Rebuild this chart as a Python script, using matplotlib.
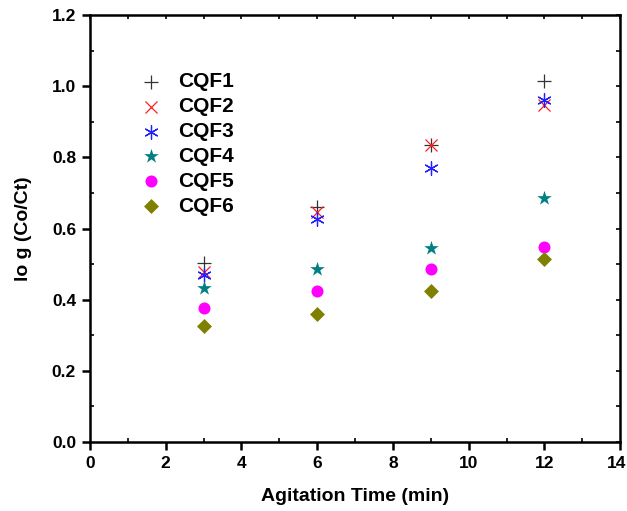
import matplotlib
matplotlib.use("Agg")
import matplotlib.pyplot as plt
from matplotlib.ticker import MultipleLocator
import matplotlib.transforms as mtrans

plt.rcParams['font.family'] = ['Liberation Sans', 'DejaVu Sans']

time = [3, 6, 9, 12]
cqf1 = [0.503, 0.660, 0.835, 1.015]
cqf2 = [0.478, 0.646, 0.835, 0.947]
cqf3 = [0.470, 0.627, 0.770, 0.961]
cqf4 = [0.433, 0.486, 0.545, 0.686]
cqf5 = [0.377, 0.424, 0.486, 0.548]
cqf6 = [0.326, 0.360, 0.424, 0.514]
labels = ['CQF1', 'CQF2', 'CQF3', 'CQF4', 'CQF5', 'CQF6']
xticks = [0, 2, 4, 6, 8, 10, 12, 14]
yticks = [0, 0.2, 0.4, 0.6, 0.8, 1.0, 1.2]
yticklabels = ['0.0', '0.2', '0.4', '0.6', '0.8', '1.0', '1.2']

fig = plt.figure(figsize=(6.27, 5.11), dpi=100)
ax = fig.add_axes([0.1435, 0.135, 0.8455, 0.8356])

styles = [
    dict(marker='+', color='#333333', s=90, linewidths=0.9),
    dict(marker='x', color='#ff2020', s=75, linewidths=0.9),
    dict(marker=(6, 2, 0), color='#2020ff', s=95, linewidths=0.9),
    dict(marker='*', color='#008080', s=120, linewidths=0),
    dict(marker='o', color='#ff00ff', s=75, linewidths=0),
    dict(marker='D', color='#808000', s=58, linewidths=0),
]
series = [cqf1, cqf2, cqf3, cqf4, cqf5, cqf6]
for ys, lab, st in zip(series, labels, styles):
    ax.scatter(time, ys, label=lab, zorder=3, **st)

ax.set_xlim(0, 14)
ax.set_ylim(0, 1.2)
ax.set_xticks(xticks)
ax.set_xticklabels([str(v) for v in xticks])
ax.xaxis.set_minor_locator(MultipleLocator(1))
ax.set_yticks(yticks)
ax.set_yticklabels(yticklabels)
ax.yaxis.set_minor_locator(MultipleLocator(0.1))

for sp in ax.spines.values():
    sp.set_linewidth(1.8)

ax.tick_params(which='major', direction='out', length=6, width=1.8,
               labelsize=12.5, pad=4, top=False, right=False)
ax.tick_params(which='minor', direction='in', length=3, width=1.2,
               top=True, right=True)
sec_x = ax.secondary_xaxis('top')
sec_x.set_xticks(xticks)
sec_x.tick_params(direction='in', length=3, width=1.2, labeltop=False)
sec_y = ax.secondary_yaxis('right')
sec_y.set_yticks(yticks)
sec_y.tick_params(direction='in', length=3, width=1.2, labelright=False)
for s in sec_x.spines.values():
    s.set_visible(False)
for s in sec_y.spines.values():
    s.set_visible(False)

for t in ax.get_xticklabels() + ax.get_yticklabels():
    t.set_fontweight('bold')
last = ax.get_xticklabels()[-1]
last.set_transform(last.get_transform() + mtrans.ScaledTranslation(-4/100, 0, fig.dpi_scale_trans))

ax.set_xlabel('Agitation Time (min)', fontsize=14, fontweight='bold', labelpad=12)
ax.set_ylabel('lo g (Co/Ct)', fontsize=14, fontweight='bold', labelpad=14)

leg = ax.legend(loc='upper left', bbox_to_anchor=(0.06, 0.885), frameon=False,
                prop={'weight': 'bold', 'size': 15}, handletextpad=0.3,
                labelspacing=0.28, scatterpoints=1, borderaxespad=0)

fig.savefig('out.png', dpi=100)
